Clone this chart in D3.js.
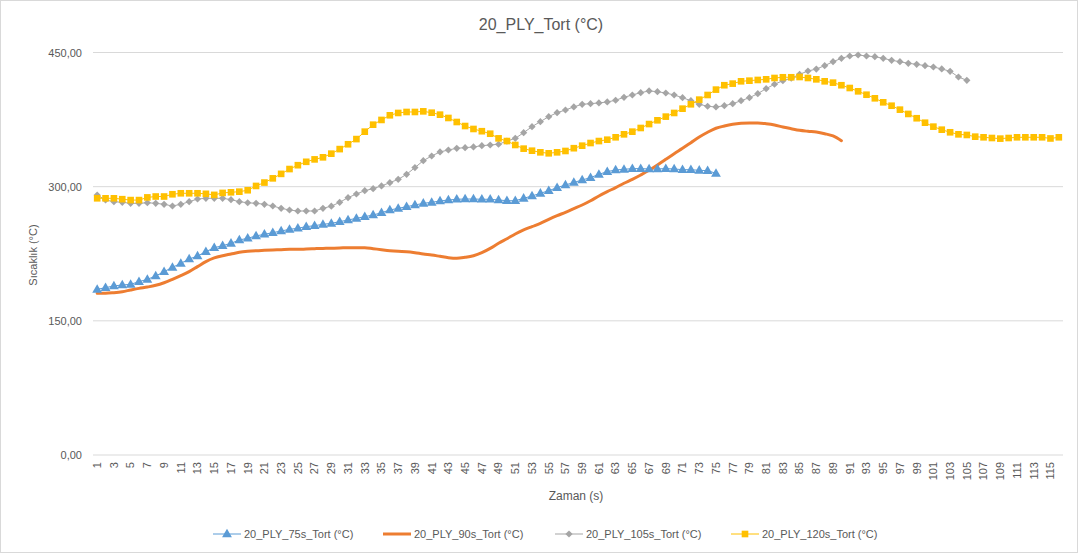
<!DOCTYPE html>
<html>
<head>
<meta charset="utf-8">
<script src="https://cdn.jsdelivr.net/npm/d3@7"></script>
<style>
  body { margin: 0; background: #fff; }
  text { font-family: "Liberation Sans", Arial, sans-serif; fill: #595959; }
</style>
</head>
<body>
<div id="chart"></div>
<script>
var width = 1083,
    height = 555;

var margin = {top: 52.5, right: 20, bottom: 100, left: 93};

// categories 1..116 (zaman, s)
var categories = d3.range(1, 117);
var yTicks = [0, 150, 300, 450];
var yTickLabels = ["0,00", "150,00", "300,00", "450,00"];

var s75 = [185.2, 187.1, 189, 190.1, 190.8, 193.8, 196.4, 200.1, 205, 209.8,
  214.3, 219.1, 222.5, 227.3, 231.8, 234, 236.7, 240.4, 242.3, 244.9,
  246.8, 248.6, 250.4, 252.3, 253.5, 255.3, 256.4, 257.9, 259, 260.9,
  262.7, 264.6, 266.5, 268.3, 270.9, 273.9, 275.8, 277.6, 279.5, 281.4,
  282.5, 284, 285.1, 285.9, 286.2, 286.2, 285.9, 285.9, 285.1, 284.3,
  284.3, 287, 289.6, 292.6, 295.5, 298.9, 301.9, 304.7, 307.5, 310.1,
  313.8, 316.8, 318.7, 319.4, 320.2, 320.2, 319.8, 319.8, 320.2, 319.8,
  319, 319, 318.3, 317.9, 314.9];

var s90 = [180.8, 180.8, 181.5, 182.6, 184.5, 186.3, 187.8, 189.7, 192.6, 196.4,
  200.5, 205, 210.6, 216.2, 220.3, 222.8, 224.7, 226.6, 227.7, 228.4,
  228.8, 229.2, 229.5, 229.9, 229.9, 230.3, 230.7, 231, 231.2, 231.4,
  231.8, 231.8, 231.8, 230.7, 229.5, 228.4, 227.7, 227.3, 226.2, 224.7,
  223.6, 222.1, 220.6, 219.9, 221, 222.8, 226.2, 231, 236.7, 241.8,
  247.1, 251.6, 255.3, 259, 263.5, 267.6, 271.3, 275.4, 279.5, 284.3,
  289.6, 294.4, 298.9, 303.8, 308.2, 313.1, 318.3, 324.2, 330.6, 336.9,
  342.9, 349.2, 355.5, 360.8, 365.3, 367.8, 369.7, 370.8, 371.2, 371.2,
  370.4, 369, 366.7, 364.8, 363, 361.9, 361, 359.2, 356.7, 351.4];

var s105 = [290.7, 285.1, 283.2, 282.5, 281.4, 281.4, 282, 281.4, 280.3, 278.4,
  280.3, 283.2, 286.2, 287, 287, 287, 285.5, 283.2, 282, 281.4,
  280.3, 278.4, 275.8, 273.9, 272.8, 272.8, 272.8, 275.8, 278.2, 282.5,
  287.7, 291.8, 295.5, 297.8, 300.8, 304.5, 308.2, 313.8, 321.3, 329.1,
  334.3, 338.8, 341, 342.9, 343.6, 344.4, 345.8, 346.6, 347.4, 351,
  354, 360.4, 367.1, 372.7, 378.3, 382.7, 385.7, 389.2, 392.1, 392.8,
  393.6, 394.7, 396.6, 399.9, 402.5, 405.1, 407, 406.2, 404.7, 402.5,
  399.5, 396.1, 392.1, 389.9, 389.1, 390.5, 392.8, 396.1, 399.5, 404,
  409.6, 414.5, 418.5, 421.2, 425.6, 429.3, 431.5, 435.3, 439.7, 443.5,
  446.1, 447.2, 446.1, 445.3, 443.5, 441.3, 439.7, 437.9, 436.8, 435.3,
  433.8, 431.6, 429, 422.6, 418.9];

var s120 = [287, 287, 287, 286, 285, 285, 288, 289, 289, 291.5,
  292.6, 292.6, 292.6, 292, 290.8, 293, 293.7, 294.4, 296, 300.8,
  304.6, 309.3, 314.3, 319.7, 324, 327.8, 330.5, 332.8, 336.9, 342,
  347.4, 353.2, 361.5, 369.3, 374.6, 379.8, 382.4, 383.5, 383.5, 384.2,
  382.7, 380.5, 376.8, 372.3, 367.8, 364.5, 362, 359.2, 354, 351,
  346.6, 342.5, 340.2, 338.4, 337.3, 338.4, 339.9, 343, 345.8, 348.8,
  351, 352.5, 355.2, 358.5, 361.5, 365.6, 370, 374.2, 378.3, 382.4,
  387.2, 392.1, 397.3, 402.5, 408.5, 413.4, 415.2, 417.8, 418.5, 419.3,
  420, 421.5, 422.3, 422.3, 422.6, 421.5, 420, 417.8, 416.3, 413.4,
  410.3, 406.6, 402.8, 398.8, 394.3, 390.5, 386.1, 381.3, 376.5, 371.5,
  367.1, 363.7, 360.8, 358.5, 357.8, 355.9, 355.2, 354.4, 353.7, 354.4,
  355.2, 355.2, 355.2, 355.2, 353.9, 355.2];

var seriesNames = ["20_PLY_75s_Tort (°C)", "20_PLY_90s_Tort (°C)",
  "20_PLY_105s_Tort (°C)", "20_PLY_120s_Tort (°C)"];
var seriesColors = ["#5b9bd5", "#ed7d31", "#a5a5a5", "#ffc000"];
var seriesMarkers = ["triangle", "none", "diamond", "square"];
var seriesValues = [s75, s90, s105, s120];

var plotW = 1063 - margin.left,
    plotH = 455 - margin.top;

var svg = d3.select("#chart").append("svg")
    .attr("width", width)
    .attr("height", height);

svg.append("rect")
    .attr("x", 0.5).attr("y", 0.5)
    .attr("width", 1077).attr("height", 552)
    .attr("fill", "#fff")
    .attr("stroke", "#d9d9d9");

var g = svg.append("g")
    .attr("transform", "translate(" + margin.left + "," + margin.top + ")");

var x = d3.scaleBand()
    .domain(categories)
    .range([0, plotW]);

var y = d3.scaleLinear()
    .domain([0, 450])
    .range([plotH, 0]);

var cx = function(i) { return x(categories[i]) + x.bandwidth() / 2; };

// gridlines
g.append("g").attr("class", "grid")
  .selectAll("line").data(yTicks)
  .enter().append("line")
    .attr("x1", 0).attr("x2", plotW)
    .attr("y1", d => y(d)).attr("y2", d => y(d))
    .attr("stroke", "#d9d9d9")
    .attr("stroke-width", 1);

// y axis labels
var yAxis = d3.axisLeft(y)
    .tickValues(yTicks)
    .tickSize(0)
    .tickPadding(11)
    .tickFormat((d, i) => yTickLabels[i]);

g.append("g").call(yAxis)
    .call(s => s.select(".domain").remove())
    .selectAll("text")
    .attr("font-size", "11px")
    .attr("fill", "#595959")
    .style("font-family", "Liberation Sans, Arial, sans-serif");

// x axis labels
var xAxis = d3.axisBottom(x)
    .tickValues(categories.filter(d => d % 2 === 1))
    .tickSize(0);

var xa = g.append("g")
    .attr("transform", "translate(0," + plotH + ")")
    .call(xAxis);
xa.select(".domain").remove();
xa.selectAll("text")
    .attr("font-size", "11px")
    .attr("fill", "#595959")
    .style("font-family", "Liberation Sans, Arial, sans-serif")
    .attr("text-anchor", "end")
    .attr("transform", "translate(0,7) rotate(-90)")
    .attr("x", 0).attr("y", 0).attr("dy", "0.35em");

// lines
var line = d3.line()
    .x((d, i) => cx(i))
    .y(d => y(d));

var smooth = d3.line()
    .x((d, i) => cx(i))
    .y(d => y(d))
    .curve(d3.curveMonotoneX);

seriesValues.forEach(function(vals, k) {
  g.append("path")
    .datum(vals)
    .attr("fill", "none")
    .attr("stroke", seriesColors[k])
    .attr("stroke-width", seriesMarkers[k] === "none" ? 3 : 1)
    .attr("stroke-linejoin", "round")
    .attr("stroke-linecap", "round")
    .attr("d", seriesMarkers[k] === "none" ? smooth : line);
});

var symbolOf = {
  triangle: d3.symbol().type(d3.symbolTriangle).size(42),
  diamond: d3.symbol().type(d3.symbolSquare).size(26),
  square: d3.symbol().type(d3.symbolSquare).size(44)
};

function markerTransform(type, px, py) {
  if (type === "diamond") return "translate(" + px + "," + py + ") rotate(45)";
  if (type === "triangle") return "translate(" + px + "," + (py + 0.5) + ")";
  return "translate(" + px + "," + py + ")";
}

seriesValues.forEach(function(vals, k) {
  var type = seriesMarkers[k];
  if (type === "none") return;
  g.append("g")
    .selectAll("path").data(vals)
    .enter().append("path")
      .attr("d", symbolOf[type])
      .attr("fill", seriesColors[k])
      .attr("transform", (d, i) => markerTransform(type, cx(i), y(d)));
});

// title
svg.append("text")
    .attr("x", 541).attr("y", 30)
    .attr("text-anchor", "middle")
    .attr("font-size", "16px")
    .text("20_PLY_Tort (°C)");

// axis titles
svg.append("text")
    .attr("transform", "translate(37,255) rotate(-90)")
    .attr("text-anchor", "middle")
    .attr("font-size", "11px")
    .text("Sıcaklık (°C)");

svg.append("text")
    .attr("x", 576).attr("y", 500)
    .attr("text-anchor", "middle")
    .attr("font-size", "12px")
    .text("Zaman (s)");

// legend
var legendX = [213, 383, 555, 731];
var leg = svg.append("g").attr("class", "legend");
seriesNames.forEach(function(name, k) {
  var lx = legendX[k], ly = 534;
  var item = leg.append("g");
  item.append("line")
    .attr("x1", lx).attr("x2", lx + 28)
    .attr("y1", ly).attr("y2", ly)
    .attr("stroke", seriesColors[k])
    .attr("stroke-width", seriesMarkers[k] === "none" ? 3 : 1);
  if (seriesMarkers[k] !== "none") {
    item.append("path")
      .attr("d", symbolOf[seriesMarkers[k]])
      .attr("fill", seriesColors[k])
      .attr("transform", markerTransform(seriesMarkers[k], lx + 14, ly));
  }
  item.append("text")
    .attr("x", lx + 31).attr("y", ly + 4)
    .attr("font-size", "11px")
    .text(name);
});
</script>
</body>
</html>
